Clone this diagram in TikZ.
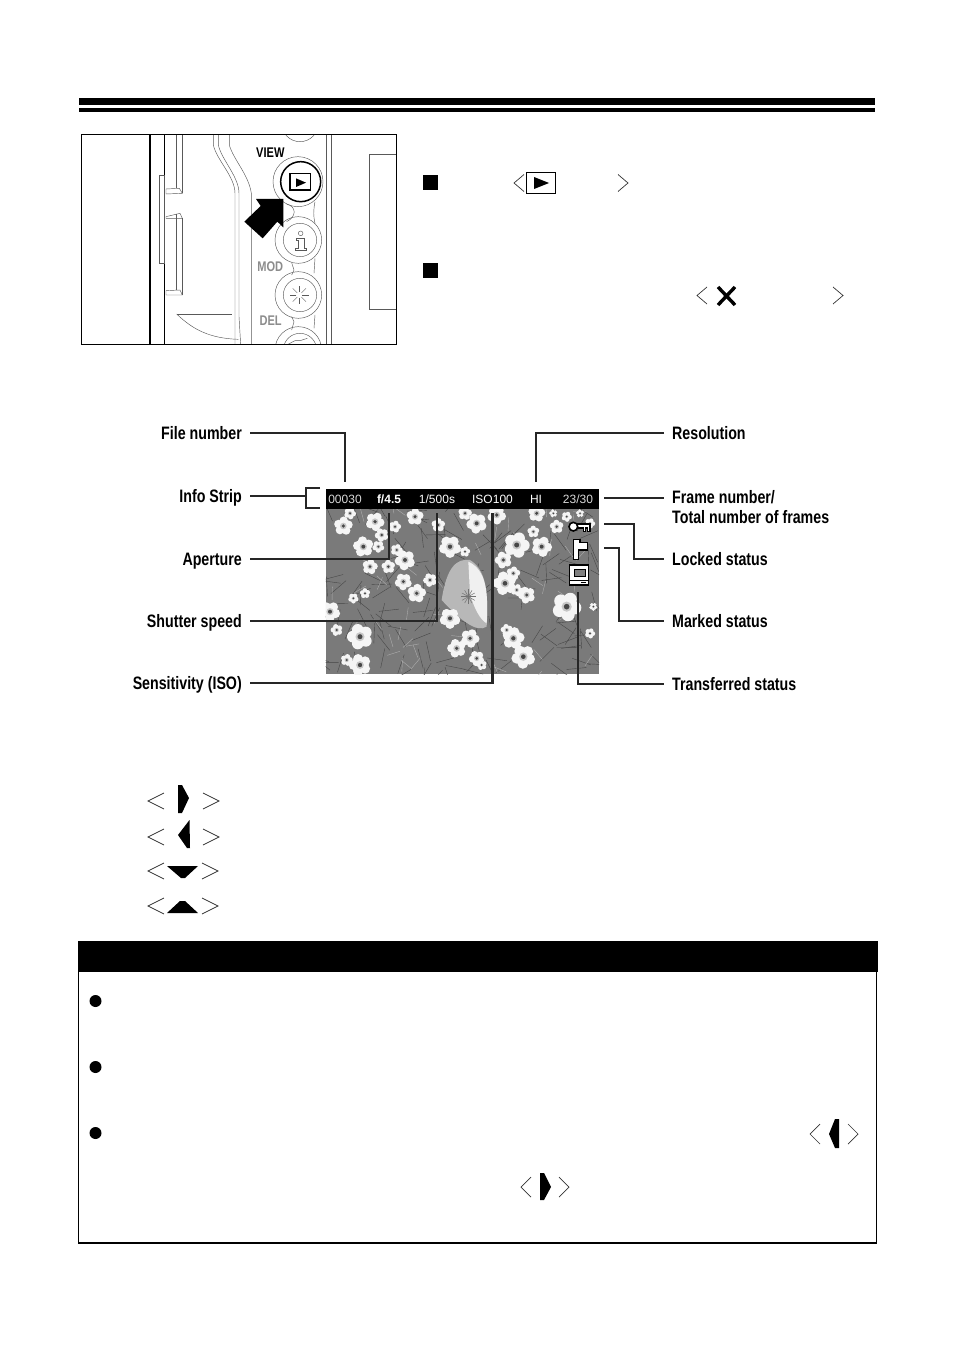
\documentclass[tikz,border=0pt]{standalone}
\usepackage{fontspec}
\usetikzlibrary{positioning, calc}
\setmainfont{Liberation Sans}
\newfontfamily\labelfont[FakeStretch=0.79]{Liberation Sans}
\tikzstyle{label_left} = [anchor=east, inner sep=0, text height=12pt, text depth=0pt, font={\labelfont\bfseries\fontsize{18}{20}\selectfont}]
\tikzstyle{label_right} = [anchor=west, inner sep=0, text height=12pt, text depth=0pt, align=left, font={\labelfont\bfseries\fontsize{18}{20}\selectfont}]
\tikzstyle{strip_item} = [inner sep=0, minimum height=20pt, text=white, font={\fontsize{12}{14}\selectfont}]
\tikzstyle{conn} = [line width=2.5pt, black!85]
\tikzstyle{thin_cam} = [line width=0.45pt, black!65]
\tikzstyle{bracket_sym} = [line width=0.7pt, black!80]
\tikzstyle{bullet_sq} = [fill=black, minimum size=15pt, inner sep=0]
\tikzstyle{bullet_dot} = [circle, fill=black, minimum size=12pt, inner sep=0]
% angle brackets round a key symbol
\newcommand{\anglepair}[5]{
\draw[bracket_sym] (#2,#4-#5) -- (#1,#4) -- (#2,#4+#5);
\draw[bracket_sym] (#3,#4-#5) -- (#3+#2-#1,#4) -- (#3,#4+#5);
}
\newcommand{\flowerat}[3]{
\foreach \ang in {0,72,...,288}
\fill[black!4] (#1,#2) ++(\ang+#1:#3*0.72) circle (#3*0.58);
\fill[black!22] (#1,#2) circle (#3*0.45);
\fill[black!72] (#1,#2) circle (#3*0.25);
}
\begin{document}
\begin{tikzpicture}[x=1pt, y=-1pt]
\useasboundingbox (0,0) rectangle (954,1351);

% top rule
\fill (79,98) rectangle (875,105);
\fill (79,108) rectangle (875,112);

% camera back
\begin{scope}[shift={(70,90)}, scale=1/3]
\begin{scope}
\clip (35,133) rectangle (980,763);
\draw[line width=1.2pt] (240,133) -- (240,763);
\draw[line width=1pt] (283,133) -- (283,763);
\draw[thin_cam] (268,255) rectangle (283,520);
\draw[thin_cam] (320,133) -- (320,295) (337,133) -- (337,310);
\draw[thin_cam] (288,297) -- (328,295) -- (337,310) -- (288,312) -- cycle;
\draw[thin_cam] (288,380) -- (330,370) -- (337,385) -- (288,385) -- cycle;
\draw[thin_cam] (320,372) -- (320,600) (337,385) -- (337,615);
\draw[thin_cam] (288,602) -- (330,600) -- (337,615) -- (288,615) -- cycle;
\draw[thin_cam] (430,133) -- (430,165) .. controls (440,210) and (495,260) .. (495,310) -- (495,763);
\draw[thin_cam] (445,133) -- (445,165) .. controls (455,210) and (507,260) .. (507,310) -- (507,680) -- (512,763);
\draw[thin_cam] (478,133) -- (478,165) .. controls (490,210) and (542,260) .. (545,320) -- (545,763);
\draw[thin_cam] (770,133) -- (770,763) (785,133) -- (785,763);
\draw[thin_cam] (980,193) -- (898,193) -- (898,658) -- (980,658);
\draw[thin_cam] (320,672) -- (485,672);
\draw[thin_cam] (320,672) .. controls (370,720) and (420,745) .. (505,748);
\draw[thin_cam] (690,100) circle (55);
% button chain
\draw[thin_cam] (735,335) .. controls (730,360) and (730,380) .. (735,400);
\draw[thin_cam] (650,342) .. controls (680,350) and (680,380) .. (650,395);
\draw[thin_cam] (735,505) -- (732,550) (665,518) -- (672,540) -- (665,555);
\draw[thin_cam] (735,675) -- (732,715) (665,680) -- (672,695) -- (665,720);
\draw[thin_cam] (684,275) circle (75);
\draw[line width=1.5pt] (692,275) circle (60);
\draw[line width=1.3pt] (660,250) rectangle (722,300);
\fill (678,265) -- (708,278) -- (678,291) -- cycle;
\foreach \by in {450,615,780} {
\draw[thin_cam] (685,\by) circle (70);
\draw[thin_cam] (690,\by) circle (50);
}
\draw[thin_cam] (692,430) circle (7);
\draw[thin_cam] (680,445) -- (702,445) -- (702,475) -- (708,475) -- (708,482) -- (675,482) -- (675,475) -- (686,475) -- (686,452) -- (680,452) -- cycle;
\foreach \ang in {0,45,...,315}
\draw[thin_cam] ($(688,615)+(\ang:9)$) -- ($(688,615)+(\ang:28)$);
\draw[thin_cam] (650,765) -- (675,752) -- (690,752) -- (712,745);
\node[font={\labelfont\bfseries\fontsize{14}{14}\selectfont}, inner sep=0] (viewtext) at (601,187) {VIEW};
\node[text=black!45, font={\labelfont\bfseries\fontsize{14}{14}\selectfont}, inner sep=0] (modtext) at (601,531) {MOD};
\node[text=black!45, font={\labelfont\bfseries\fontsize{14}{14}\selectfont}, inner sep=0] (deltext) at (602,692) {DEL};
% press arrow
\fill (640,327) -- (558,327) -- (572,348) -- (523,395) -- (578,445) -- (622,395) -- (640,412) -- cycle;
\end{scope}
\draw[line width=1pt] (35,133) rectangle (980,763);
\end{scope}

% steps on the right
\node[bullet_sq] (stepone) at (430,183) {};
\node[bullet_sq] (steptwo) at (430,270) {};
\anglepair{514}{524}{618}{183}{8.5}
\node[draw, line width=1.2pt, minimum width=29pt, minimum height=21pt, inner sep=0] (viewkey) at (541,183) {};
\fill (534,177) -- (549,183) -- (534,189) -- cycle;
\anglepair{697}{707}{833}{295.5}{8.5}
\draw[line width=3.4pt] (718,287) -- (735,305) (735,287) -- (718,305);

% picture of the screen
\begin{scope}[shift={(300,420)}, scale=1/3]
\begin{scope}
\clip (77,267) rectangle (897,763);
\fill[black!52] (77,267) rectangle (897,763);
\pgfmathsetseed{12}
\foreach \i in {1,...,160}
\draw[black!72, line width=0.4pt] ($(77,267)+(rnd*820,rnd*496)$) -- ++(rnd*360:60);
\foreach \i in {1,...,50}
\draw[black!32, line width=0.4pt] ($(77,267)+(rnd*820,rnd*496)$) -- ++(rnd*360:40);
\foreach \fx/\fy/\fs in {130/318/22,150/280/14,225/305/22,245/345/16,190/380/24,235/380/14,345/290/20,415/315/16,285/320/14,315/420/24,290/390/14,210/440/18,265/440/16,310/485/20,390/480/16,350/520/22,450/380/26,495/395/12,530/310/24,495/280/16,590/285/22,650/375/30,725/380/24,700/335/14,710/280/20,615/490/28,610/420/20,680/525/20,650/510/14,800/560/34,640/460/16,180/650/30,180/735/26,140/720/14,90/575/24,110/630/14,450/595/24,510/655/22,470/685/22,530/715/18,545/735/12,640/655/26,670/710/28,620/630/14,160/535/12,195/520/12,870/640/12,870/310/12,770/320/16,800/290/12,840/280/10,760/280/10,880/560/10}
\flowerat{\fx}{\fy}{\fs};
% large poppy
\fill[black!28] (425,540) .. controls (440,440) and (470,415) .. (510,420) .. controls (560,450) and (565,520) .. (560,620) .. controls (530,640) and (480,600) .. (425,540) -- cycle;
\fill[black!6] (505,425) .. controls (560,450) and (565,520) .. (560,610) .. controls (540,600) and (520,560) .. (510,520) -- cycle;
\foreach \ang in {0,30,...,330}
\draw[black!55, line width=0.5pt] (505,530) -- ++(\ang:22);
\flowerat{450}{595}{24}
\end{scope}
% status icons
\draw[line width=1.6pt, fill=white] (833,312) -- (870,312) -- (870,335) -- (862,335) -- (862,324) -- (856,324) -- (856,335) -- (850,335) -- (850,324) -- (833,324) -- cycle;
\draw[line width=1.6pt, fill=white] (820,320) circle (13);
\draw[line width=1.6pt, fill=white] (820,358) -- (840,358) -- (840,368) -- (862,368) -- (862,390) -- (835,390) -- (835,418) -- (820,418) -- cycle;
\draw[line width=1.6pt, fill=white] (808,435) rectangle (865,495);
\draw[line width=1pt, fill=black!50] (822,448) rectangle (855,470);
\draw[line width=0.8pt] (808,480) -- (865,480) (843,487) -- (858,487);
\end{scope}

% info strip
\fill[black] (326,489) rectangle (599,509);
\node[strip_item, text=black!15] (numfile) at (345,499) {00030};
\node[strip_item, font={\bfseries\fontsize{12}{14}\selectfont}] (numaperture) at (389,499) {f/4.5};
\node[strip_item] (numshutter) at (437,499) {1/500s};
\node[strip_item] (numiso) at (492.5,499) {ISO100};
\node[strip_item] (numres) at (536,499) {HI};
\node[strip_item, text=black!15] (numframe) at (578,499) {23/30};

% left labels
\node[label_left] (lblfile) at (242,433) {File number};
\node[label_left, below=63pt of lblfile.east, anchor=east] (lblinfo) {Info Strip};
\node[label_left, below=63pt of lblinfo.east, anchor=east] (lblaperture) {Aperture};
\node[label_left, below=62pt of lblaperture.east, anchor=east] (lblshutter) {Shutter speed};
\node[label_left, below=62pt of lblshutter.east, anchor=east] (lbliso) {Sensitivity (ISO)};

% right labels
\node[label_right] (lblres) at (672,433) {Resolution};
\node[label_right, below=126pt of lblres.west, anchor=west] (lbllock) {Locked status};
\node[label_right, below=62pt of lbllock.west, anchor=west] (lblmark) {Marked status};
\node[label_right, below=63pt of lblmark.west, anchor=west] (lbltrans) {Transferred status};
\node[anchor=north west, inner sep=0, align=left, font={\labelfont\bfseries\fontsize{18}{20}\selectfont}] (lblframe) at (672,490) {Frame number/\\Total number of frames};

% connectors
\coordinate (brtop) at (320,488);
\coordinate (brbottom) at (320,508);
\coordinate (brmid) at (306,496);
\coordinate (frameend) at (604,498);
\coordinate (lockend) at (604,524);
\coordinate (lockbend) at (634,540);
\coordinate (markend) at (604,548);
\coordinate (markbend) at (619,580);
\coordinate (pcend) at (578,592);
\draw[conn, shorten <=8pt, shorten >=7pt] (lblfile.east) -| (numfile.north);
\draw[conn, shorten <=8pt, shorten >=7pt] (lblres.west) -| (numres.north);
\draw[conn, shorten <=8pt] (lblinfo.east) -- (lblinfo.east -| brmid);
\draw[conn] (brtop) -- (brtop -| brmid) -- (brbottom -| brmid) -- (brbottom);
\draw[conn, shorten <=8pt, shorten >=4pt] (lblaperture.east) -| (numaperture.south);
\draw[conn, shorten <=8pt, shorten >=4pt] (lblshutter.east) -| (numshutter.south);
\draw[conn, shorten <=8pt, shorten >=4pt] (lbliso.east) -| (numiso.south);
\draw[conn, shorten >=8pt] (frameend) -- (frameend -| lblframe.west);
\draw[conn, shorten >=8pt] (lockend) -| (lockbend) |- (lbllock.west);
\draw[conn, shorten >=8pt] (markend) -| (markbend) |- (lblmark.west);
\draw[conn, shorten >=8pt] (pcend) |- (lbltrans.west);

% navigation keys
\anglepair{148}{164}{203}{801}{8}
\fill (178,785) -- (182,785) -- (189,798) -- (182,813) -- (178,813) -- cycle;
\anglepair{148}{164}{203}{837}{8}
\fill (189.5,820) -- (178,835) -- (187,848) -- (190,848) -- cycle;
\anglepair{148}{164}{202}{871}{8}
\fill (167,866) -- (198,866) -- (185,878) -- (181,878) -- cycle;
\anglepair{148}{164}{202}{906}{8}
\fill (167,913) -- (198,913) -- (185,901) -- (180,901) -- cycle;

% notes box
\draw[line width=1pt] (78.5,971) -- (78.5,1243) (876,971) -- (876,1243);
\draw[line width=2pt] (78,1243) -- (877,1243);
\fill (78,941) rectangle (877.5,971.5);
\node[bullet_dot] (noteone) at (95.5,1001) {};
\node[bullet_dot, below=66pt of noteone.center, anchor=center] (notetwo) {};
\node[bullet_dot, below=66pt of notetwo.center, anchor=center] (notethree) {};
\anglepair{810}{820}{848}{1134}{10}
\fill (835,1119) -- (829,1134) -- (835,1148) -- (839,1148) -- (839,1119) -- cycle;
\anglepair{521}{531}{559}{1187}{10}
\fill (540,1173) -- (544,1173) -- (551,1187) -- (544,1200) -- (540,1200) -- cycle;
\end{tikzpicture}
\end{document}
